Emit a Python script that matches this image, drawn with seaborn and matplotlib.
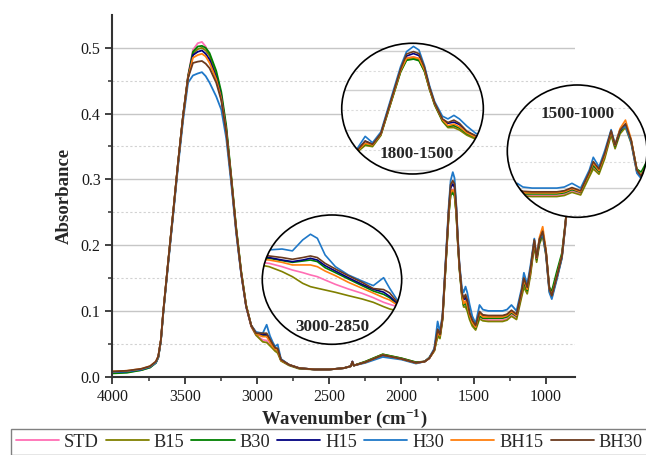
import pandas as pd
import seaborn as sns
import matplotlib.pyplot as plt
from matplotlib.axes import Axes
from matplotlib.patches import Circle
from matplotlib.projections import register_projection
from matplotlib.ticker import MultipleLocator, FormatStrFormatter

# =========================
# DATA
# =========================

samples = ["STD", "B15", "B30", "H15", "H30", "BH15", "BH30"]
colors = ["#ff6eb4", "#808000", "#008000", "#000080", "#1f78c8", "#ff7f0e", "#6b3a1e"]

wavenumber = [
    4000, 3900, 3800, 3740, 3700, 3683, 3665, 3649, 3615, 3580,
    3546, 3511, 3477, 3443, 3410, 3381, 3355, 3328, 3282, 3247,
    3213, 3178, 3144, 3109, 3075, 3040, 3006, 2960, 2933, 2910,
    2892, 2875, 2857, 2834, 2777, 2708, 2600, 2500, 2400, 2350,
    2340, 2330, 2250, 2130, 2000, 1900, 1840, 1808, 1773, 1750,
    1734, 1716, 1697, 1673, 1660, 1645, 1633, 1621, 1610, 1599,
    1582, 1570, 1557, 1545, 1529, 1510, 1487, 1460, 1437, 1400,
    1350, 1300, 1270, 1239, 1204, 1169, 1153, 1130, 1107, 1081,
    1065, 1045, 1023, 1000, 977, 960, 925, 890, 868, 845,
    800,
]

std = [
    .007, .008, .011, .015, .022, .030, .055, .097, .173, .249,
    .325, .398, .458, .497, .507, .509, .502, .487, .456, .423,
    .373, .299, .222, .156, .106, .076, .063, .056, .055, .049,
    .044, .040, .038, .025, .018, .013, .011, .011, .013, .016,
    .023, .017, .022, .033, .027, .021, .023, .028, .040, .066,
    .060, .088, .160, .250, .282, .285, .280, .250, .204, .166,
    .125, .110, .110, .104, .090, .080, .073, .091, .088, .086,
    .086, .086, .088, .095, .089, .124, .139, .129, .158, .202,
    .176, .204, .217, .186, .131, .121, .150, .182, .226, .277,
    .350,
]

b15 = [
    .006, .007, .010, .014, .021, .029, .054, .096, .172, .248,
    .324, .396, .455, .491, .498, .500, .496, .488, .460, .428,
    .378, .303, .226, .159, .108, .077, .063, .053, .052, .047,
    .043, .039, .036, .024, .017, .012, .011, .011, .013, .016,
    .022, .017, .023, .034, .028, .022, .023, .028, .039, .061,
    .058, .086, .157, .246, .278, .282, .277, .248, .202, .163,
    .122, .106, .106, .100, .087, .077, .071, .088, .085, .084,
    .084, .084, .086, .092, .087, .121, .136, .126, .155, .200,
    .174, .202, .214, .184, .130, .121, .150, .181, .225, .276,
    .350,
]

b30 = [
    .005, .006, .010, .014, .021, .030, .055, .097, .174, .250,
    .326, .398, .457, .494, .502, .503, .500, .492, .465, .433,
    .382, .305, .227, .160, .109, .078, .065, .062, .062, .054,
    .047, .042, .040, .025, .018, .013, .011, .011, .013, .016,
    .022, .017, .023, .034, .028, .022, .023, .029, .040, .064,
    .061, .088, .158, .247, .276, .279, .275, .248, .203, .165,
    .124, .109, .111, .105, .091, .081, .074, .092, .089, .089,
    .089, .089, .091, .097, .092, .126, .142, .131, .160, .204,
    .178, .206, .219, .190, .136, .130, .160, .188, .230, .280,
    .350,
]

h15 = [
    .007, .008, .011, .015, .022, .030, .055, .097, .173, .249,
    .325, .397, .455, .489, .494, .496, .491, .482, .455, .425,
    .375, .300, .223, .157, .107, .078, .066, .064, .064, .055,
    .048, .043, .042, .026, .018, .013, .011, .011, .013, .016,
    .023, .017, .022, .032, .027, .021, .023, .028, .041, .072,
    .064, .090, .162, .252, .287, .293, .288, .256, .207, .168,
    .127, .117, .120, .114, .096, .084, .076, .097, .093, .092,
    .092, .092, .094, .099, .093, .129, .147, .134, .163, .207,
    .180, .208, .220, .189, .133, .122, .152, .183, .228, .279,
    .350,
]

h30 = [
    .007, .008, .011, .015, .021, .029, .054, .095, .170, .245,
    .320, .390, .447, .458, .461, .463, .457, .447, .426, .406,
    .363, .293, .218, .155, .106, .078, .068, .066, .079, .062,
    .053, .046, .049, .027, .018, .013, .011, .011, .013, .016,
    .023, .017, .021, .030, .026, .020, .023, .029, .043, .084,
    .068, .095, .168, .260, .298, .311, .302, .262, .212, .172,
    .135, .128, .137, .128, .110, .092, .081, .109, .102, .100,
    .100, .100, .102, .109, .100, .134, .158, .140, .170, .210,
    .183, .210, .216, .186, .128, .118, .148, .180, .225, .276,
    .350,
]

bh15 = [
    .008, .009, .012, .016, .023, .031, .056, .098, .174, .250,
    .326, .397, .455, .485, .489, .491, .487, .477, .452, .423,
    .374, .301, .224, .158, .108, .078, .065, .061, .061, .053,
    .046, .042, .040, .025, .018, .013, .011, .011, .013, .016,
    .022, .017, .022, .033, .027, .021, .023, .028, .040, .066,
    .062, .089, .160, .250, .281, .284, .281, .252, .205, .167,
    .126, .111, .115, .108, .093, .082, .075, .097, .091, .091,
    .091, .091, .093, .099, .093, .127, .147, .133, .161, .206,
    .180, .212, .228, .192, .134, .124, .153, .184, .228, .278,
    .350,
]

bh30 = [
    .008, .009, .012, .016, .023, .031, .056, .098, .174, .250,
    .326, .397, .454, .477, .479, .480, .476, .469, .447, .420,
    .372, .300, .223, .157, .107, .078, .066, .066, .066, .057,
    .050, .044, .043, .026, .018, .013, .011, .011, .013, .016,
    .023, .017, .022, .033, .027, .021, .023, .028, .041, .072,
    .064, .091, .163, .254, .292, .298, .293, .258, .208, .169,
    .128, .119, .125, .117, .097, .086, .078, .099, .094, .093,
    .093, .093, .095, .101, .095, .130, .150, .136, .165, .208,
    .181, .209, .221, .190, .134, .123, .152, .183, .228, .278,
    .350,
]

# zoomed CH stretching region (3000-2850)
wn_ch = [3008, 3000, 2985, 2973, 2961, 2952, 2944, 2935, 2923, 2908, 2892, 2879, 2867, 2860, 2850, 2845]
ch_std = [.0605, .0599, .0576, .0553, .0535, .0519, .0507, .0484, .0454, .0422, .0392, .0362, .0330, .0316, .0298, .0280]
ch_b15 = [.0585, .0576, .0542, .0507, .0461, .0438, .0427, .0415, .0399, .0376, .0353, .0330, .0300, .0284, .0270, .0262]
ch_b30 = [.0638, .0634, .0618, .0606, .0615, .0622, .0611, .0569, .0535, .0491, .0445, .0408, .0385, .0362, .0311, .0285]
ch_h15 = [.0643, .0639, .0622, .0611, .0622, .0634, .0622, .0583, .0546, .0500, .0454, .0420, .0400, .0371, .0316, .0290]
ch_h30 = [.0690, .0692, .0698, .0685, .0761, .0800, .0772, .0657, .0576, .0519, .0477, .0445, .0500, .0427, .0335, .0300]
ch_bh15 = [.0627, .0622, .0606, .0588, .0588, .0588, .0576, .0546, .0514, .0468, .0427, .0394, .0362, .0346, .0307, .0282]
ch_bh30 = [.0655, .0650, .0639, .0627, .0639, .0650, .0639, .0599, .0560, .0514, .0468, .0425, .0418, .0395, .0323, .0295]


def long_form(x, columns):
    partes = []
    for nome, y in zip(samples, columns):
        partes.append(pd.DataFrame({"wn": x, "A": y, "amostra": nome}))
    return pd.concat(partes, ignore_index=True)


dados = long_form(wavenumber, [std, b15, b30, h15, h30, bh15, bh30])
dados_ch = long_form(wn_ch, [ch_std, ch_b15, ch_b30, ch_h15, ch_h30, ch_bh15, ch_bh30])


# round axes for the zoom circles (everything is clipped to the ellipse)
class RoundAxes(Axes):
    name = "round"

    def _gen_axes_patch(self):
        return Circle((0.5, 0.5), 0.5)


register_projection(RoundAxes)

# =========================
# STYLE
# =========================

sns.set_style("ticks")
plt.rcParams["font.family"] = ["Liberation Serif", "DejaVu Serif"]
plt.rcParams["mathtext.fontset"] = "custom"
plt.rcParams["mathtext.rm"] = "Liberation Serif"
plt.rcParams["mathtext.bf"] = "Liberation Serif:bold"

fig = plt.figure(figsize=(6.46, 4.55), dpi=100)
ax = fig.add_axes([0.1741, 0.1721, 0.7163, 0.7949])

sns.lineplot(
    data=dados, x="wn", y="A", hue="amostra", hue_order=samples,
    palette=colors, estimator=None, errorbar=None, lw=1.3, ax=ax
)

ax.set_xlim(4000, 798)
ax.set_ylim(0, 0.5499)
ax.xaxis.set_major_locator(MultipleLocator(500))
ax.xaxis.set_minor_locator(MultipleLocator(250))
ax.yaxis.set_major_locator(MultipleLocator(0.1))
ax.yaxis.set_minor_locator(MultipleLocator(0.05))
ax.yaxis.set_major_formatter(FormatStrFormatter("%.1f"))
ax.grid(axis="y", which="major", color="#c6c6c6", lw=1.0)
ax.grid(axis="y", which="minor", color="#d2d2d2", lw=0.8, ls=(0, (2, 2)))
ax.set_axisbelow(True)

for lado in ["top", "right"]:
    ax.spines[lado].set_visible(False)
for lado in ["left", "bottom"]:
    ax.spines[lado].set_color("#333333")
    ax.spines[lado].set_linewidth(1.5)

ax.tick_params(which="major", direction="out", length=5, width=1.3, color="#333333",
               labelsize=11.5, labelcolor="#1a1a1a")
ax.tick_params(which="minor", direction="out", length=3, width=1.1, color="#333333")

ax.set_xlabel(r"Wavenumber (cm$^{\mathbf{-1}}$)", fontsize=13.5, fontweight="bold", labelpad=1)
ax.set_ylabel("Absorbance", fontsize=13.5, fontweight="bold", labelpad=6)

# legend along the bottom
leg = ax.get_legend()
handles = leg.legend_handles
nomes = [t.get_text() for t in leg.get_texts()]
leg.remove()
for h in handles:
    h.set_linewidth(1.3)
fig.legend(
    handles, nomes, loc="upper left", bbox_to_anchor=(0.017, 0.0, 0.985, 0.0571),
    mode="expand", ncol=7, fontsize=13.2, frameon=True, fancybox=False,
    edgecolor="#808080", framealpha=1, handlelength=2.35, handletextpad=0.27,
    borderpad=0.25, borderaxespad=0
)
fig.legends[0].get_frame().set_linewidth(1.0)


# =========================
# ZOOM CIRCLES
# =========================

def circulo(rect, data, xlim, ylim, texto, pos_texto, grade=True):
    axi = fig.add_axes(rect, projection="round")
    sns.lineplot(
        data=data, x="wn", y="A", hue="amostra", hue_order=samples,
        palette=colors, estimator=None, errorbar=None, legend=False,
        lw=1.2, ax=axi
    )
    axi.set_xlim(*xlim)
    axi.set_ylim(*ylim)
    axi.set_xlabel("")
    axi.set_ylabel("")
    for s in axi.spines.values():
        s.set_visible(False)
    axi.set_xticks([])
    axi.yaxis.set_major_locator(MultipleLocator(0.1))
    axi.yaxis.set_minor_locator(MultipleLocator(0.05))
    axi.tick_params(which="both", length=0, labelleft=False, labelbottom=False)
    if grade:
        axi.patch.set_facecolor("white")
        axi.grid(axis="y", which="major", color="#cfcfcf", lw=1.0)
        axi.grid(axis="y", which="minor", color="#dcdcdc", lw=0.8, ls=(0, (2, 2)))
        axi.set_axisbelow(True)
    else:
        axi.patch.set_facecolor("none")
    axi.add_patch(Circle((0.5, 0.5), 0.5, transform=axi.transAxes, fill=False,
                         ec="black", lw=1.2, clip_on=False, zorder=6))
    axi.text(pos_texto[0], pos_texto[1], texto, transform=axi.transAxes,
             ha="center", va="center", fontsize=12.3, fontweight="bold", zorder=7)
    return axi


circulo([0.5290, 0.6176, 0.2192, 0.2873], dados, (1801, 1493), (-0.011, 0.319),
        "1800-1500", (0.53, 0.153))
circulo([0.7853, 0.5224, 0.2163, 0.2908], dados, (1500, 936), (0.045, 0.294),
        "1500-1000", (0.505, 0.778))
circulo([0.4060, 0.2433, 0.2158, 0.2842], dados_ch, (3008, 2846), (0.004, 0.0933),
        "3000-2850", (0.505, 0.136), grade=False)

plt.savefig("out.png", dpi=100)
